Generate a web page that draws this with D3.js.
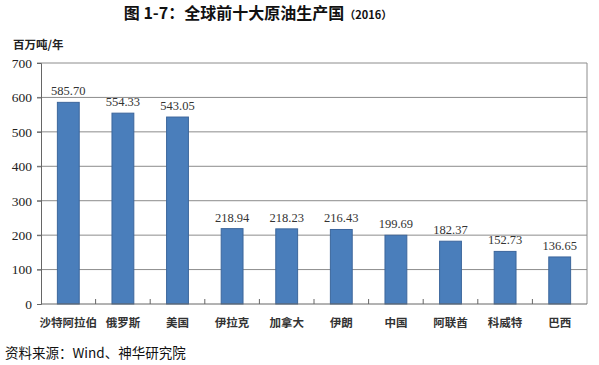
<!DOCTYPE html>
<html lang="zh">
<head>
<meta charset="UTF-8">
<script src="https://d3js.org/d3.v7.min.js"></script>
<style>
    body { margin: 0; background: #fff; }
    .cn { font-family: "Noto Sans CJK SC", sans-serif; }
    .num { font-family: "Liberation Serif", "DejaVu Serif", serif; }
</style>
</head>
<body>
<svg id="chart" width="599" height="365"></svg>
<script>
    // data
    const countries = ["沙特阿拉伯", "俄罗斯", "美国", "伊拉克", "加拿大", "伊朗", "中国", "阿联酋", "科威特", "巴西"];
    const output = [585.70, 554.33, 543.05, 218.94, 218.23, 216.43, 199.69, 182.37, 152.73, 136.65];
    const yTicks = [0, 100, 200, 300, 400, 500, 600, 700];

    const svg = d3.select("#chart");
    const plotLeft = 41, plotRight = 587, plotTop = 63, plotBottom = 304;

    const x = d3.scaleBand().domain(countries).range([plotLeft, plotRight]).paddingInner(0.6).paddingOuter(0.3);
    const xEdge = d3.scaleLinear().domain([0, countries.length]).range([plotLeft, plotRight]);
    const y = d3.scaleLinear().domain([0, 700]).range([plotBottom, plotTop]);

    // title
    const title = svg.append("text")
        .attr("class", "cn")
        .attr("x", 258).attr("y", 19)
        .attr("text-anchor", "middle")
        .attr("font-size", 16).attr("font-weight", "bold")
        .attr("fill", "#111");
    title.append("tspan").text("图 1-7：全球前十大原油生产国");
    title.append("tspan").attr("font-size", 11).text("（2016）");

    // unit
    svg.append("text")
        .attr("class", "cn")
        .attr("x", 13).attr("y", 49)
        .attr("font-size", 11.5).attr("font-weight", "bold")
        .attr("fill", "#222")
        .text("百万吨/年");

    // grid
    svg.append("g").selectAll("line")
        .data(yTicks.filter(d => d > 0))
        .join("line")
        .attr("x1", plotLeft - 4).attr("x2", plotRight)
        .attr("y1", d => y(d)).attr("y2", d => y(d))
        .attr("stroke", "#8c8c8c").attr("stroke-width", 1);

    // right border
    svg.append("line")
        .attr("x1", plotRight).attr("x2", plotRight)
        .attr("y1", y(700)).attr("y2", y(0))
        .attr("stroke", "#8c8c8c");

    // y axis
    const yAxis = svg.append("g")
        .attr("transform", `translate(${plotLeft},0)`)
        .call(d3.axisLeft(y).tickValues(yTicks).tickSize(4).tickPadding(5))
        .attr("font-family", "'Liberation Serif', serif");
    yAxis.select(".domain").attr("stroke", "#666");
    yAxis.selectAll(".tick line").attr("stroke", "#666");
    yAxis.selectAll("text")
        .attr("font-size", 13.5)
        .attr("fill", "#222");

    // bars
    svg.append("g").selectAll("rect")
        .data(output)
        .join("rect")
        .attr("x", (d, i) => x(countries[i]))
        .attr("width", x.bandwidth())
        .attr("y", d => y(d))
        .attr("height", d => y(0) - y(d))
        .attr("fill", "#4a7ebb")
        .attr("stroke", "#3c669c")
        .attr("stroke-width", 1);

    // value labels
    svg.append("g").selectAll("text")
        .data(output)
        .join("text")
        .attr("class", "num")
        .attr("x", (d, i) => x(countries[i]) + x.bandwidth() / 2)
        .attr("y", d => y(d) - 7)
        .attr("text-anchor", "middle")
        .attr("font-size", 12.5)
        .attr("fill", "#333")
        .text(d => d.toFixed(2));

    // x axis
    svg.append("line")
        .attr("x1", plotLeft).attr("x2", plotRight)
        .attr("y1", plotBottom).attr("y2", plotBottom)
        .attr("stroke", "#666");
    svg.append("g").selectAll("line")
        .data(d3.range(1, countries.length))
        .join("line")
        .attr("x1", d => xEdge(d)).attr("x2", d => xEdge(d))
        .attr("y1", plotBottom - 5).attr("y2", plotBottom)
        .attr("stroke", "#666");

    svg.append("g").selectAll("text")
        .data(countries)
        .join("text")
        .attr("class", "cn")
        .attr("x", d => x(d) + x.bandwidth() / 2)
        .attr("y", 327)
        .attr("text-anchor", "middle")
        .attr("font-size", 11.5).attr("font-weight", "bold")
        .attr("fill", "#333")
        .text(d => d);

    // source
    svg.append("text")
        .attr("class", "cn")
        .attr("x", 5).attr("y", 358)
        .attr("font-size", 13.5)
        .attr("fill", "#111")
        .text("资料来源：Wind、神华研究院");
</script>
</body>
</html>
